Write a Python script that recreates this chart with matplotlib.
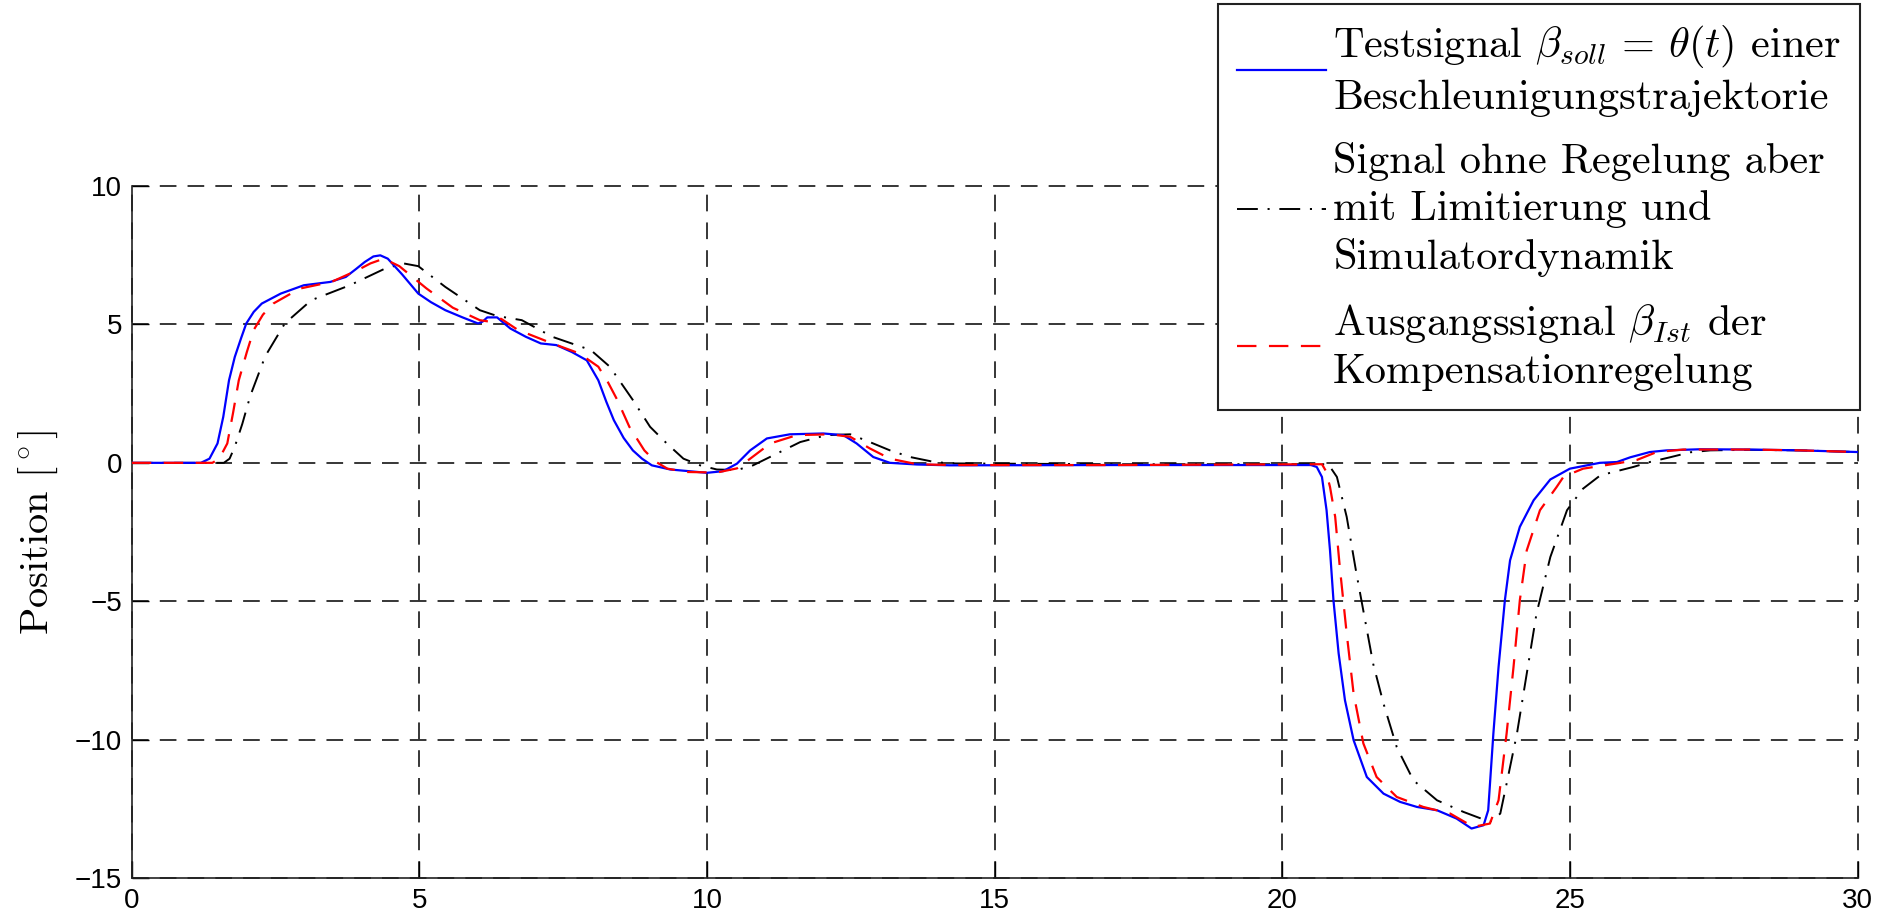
import matplotlib
matplotlib.use("Agg")
import matplotlib.pyplot as plt
from matplotlib.font_manager import FontProperties

plt.rcParams['mathtext.fontset'] = 'cm'
plt.rcParams['lines.scale_dashes'] = False
plt.rcParams['axes.unicode_minus'] = True

# ---------------- data ----------------
t_soll = [0, 1.2, 1.35, 1.49, 1.59, 1.69, 1.79, 1.9, 1.99, 2.12, 2.26, 2.59, 2.99, 3.45,
          3.72, 3.9, 4.05, 4.2, 4.32, 4.45, 4.7, 4.98, 5.2, 5.45, 5.75, 6.02, 6.1, 6.18,
          6.35, 6.58, 6.85, 7.11, 7.38, 7.65, 7.91, 8.11, 8.25, 8.38, 8.55, 8.71, 8.87,
          9.04, 9.36, 10.0, 10.28, 10.52, 10.75, 11.04, 11.44, 12.02, 12.37, 12.6, 12.89,
          13.18, 13.65, 14.22, 17.0, 20.5, 20.6, 20.69, 20.77, 20.83, 20.89, 20.98, 21.09,
          21.24, 21.47, 21.76, 22.05, 22.34, 22.69, 23.03, 23.29, 23.5, 23.58, 23.67,
          23.76, 23.87, 23.96, 24.13, 24.37, 24.66, 25.0, 25.52, 25.82, 26.05, 26.39,
          26.68, 27.26, 28.13, 29.0, 30.0]
y_soll = [0, 0, 0.15, 0.7, 1.66, 2.98, 3.82, 4.5, 5.03, 5.45, 5.75, 6.11, 6.41, 6.53,
          6.71, 7.0, 7.25, 7.45, 7.49, 7.37, 6.8, 6.11, 5.8, 5.51, 5.25, 5.03, 5.1, 5.25,
          5.25, 4.85, 4.55, 4.31, 4.25, 4.0, 3.70, 2.98, 2.2, 1.54, 0.9, 0.45, 0.15,
          -0.09, -0.24, -0.36, -0.30, -0.03, 0.45, 0.88, 1.03, 1.06, 1.0, 0.7, 0.21,
          0.0, -0.06, -0.09, -0.08, -0.08, -0.15, -0.51, -1.71, -3.16, -4.96, -6.88, -8.57,
          -10.01, -11.34, -11.94, -12.24, -12.42, -12.54, -12.84, -13.20, -13.08, -12.54, -9.77,
          -7.37, -4.96, -3.52, -2.31, -1.35, -0.6, -0.21, 0.0, 0.03, 0.2, 0.39,
          0.45, 0.49, 0.48, 0.45, 0.39]

t_ohne = [0, 1.6, 1.7, 1.79, 1.92, 2.06, 2.32, 2.66, 3.12, 3.79, 4.39, 4.72, 4.98, 5.45,
          6.05, 6.35, 6.78, 7.31, 7.98, 8.31, 8.71, 9.01, 9.30, 9.59, 9.88, 10.17, 10.52,
          10.80, 11.21, 11.62, 12.08, 12.49, 12.83, 13.18, 13.53, 13.93, 14.22, 17.0, 20.8,
          20.95, 21.12, 21.29, 21.44, 21.58, 21.76, 21.99, 22.28, 22.69, 23.15, 23.61,
          23.79, 23.90, 24.08, 24.25, 24.42, 24.66, 24.95, 25.12, 25.23, 25.53, 26.1,
          26.39, 26.74, 27.09, 27.44, 28.13, 29.0, 30.0]
y_ohne = [0, 0, 0.15, 0.58, 1.4, 2.42, 3.85, 5.03, 5.87, 6.41, 7.0, 7.2, 7.1, 6.35,
          5.51, 5.3, 5.15, 4.55, 4.07, 3.47, 2.27, 1.3, 0.70, 0.15, -0.09, -0.24, -0.26,
          -0.09, 0.33, 0.75, 1.0, 1.03, 0.75, 0.45, 0.21, 0.04, -0.02, -0.05, -0.05,
          -0.51, -1.95, -4.0, -5.68, -7.25, -8.69, -10.26, -11.46, -12.18, -12.6, -12.96,
          -12.66, -11.58, -9.77, -7.61, -5.44, -3.40, -1.71, -1.23, -0.93, -0.45, -0.15,
          0.03, 0.2, 0.38, 0.45, 0.47, 0.45, 0.39]

t_ist = [0, 1.4, 1.52, 1.66, 1.76, 1.86, 2.0, 2.12, 2.28, 2.46, 2.92, 3.47, 3.92, 4.15,
         4.38, 4.65, 5.12, 5.58, 6.05, 6.21, 6.42, 6.71, 7.31, 7.78, 8.11, 8.28, 8.44,
         8.65, 8.91, 9.1, 9.31, 9.65, 10.17, 10.52, 10.75, 11.1, 11.56, 12.14, 12.49,
         12.83, 13.18, 13.65, 14.22, 17.0, 20.69, 20.76, 20.83, 20.92, 21.0, 21.12, 21.24,
         21.41, 21.64, 21.99, 22.45, 22.92, 23.32, 23.61, 23.76, 23.90, 24.02, 24.13,
         24.25, 24.48, 24.77, 24.89, 25.23, 25.82, 26.16, 26.51, 26.97, 28.13, 29.0, 30.0]
y_ist = [0, 0, 0.15, 0.7, 1.8, 2.98, 4.0, 4.8, 5.35, 5.75, 6.29, 6.53, 6.95, 7.2,
         7.37, 7.1, 6.3, 5.6, 5.15, 5.1, 5.2, 4.8, 4.31, 3.95, 3.47, 2.9, 2.27,
         1.3, 0.45, 0.05, -0.21, -0.33, -0.35, -0.2, 0.15, 0.70, 1.0, 1.03, 0.94,
         0.52, 0.15, -0.05, -0.08, -0.08, -0.05, -0.3, -0.87, -1.95, -3.76, -6.16, -8.33,
         -10.13, -11.34, -12.06, -12.42, -12.66, -13.14, -13.02, -12.18, -9.77, -7.37, -4.96,
         -3.16, -1.71, -0.87, -0.5, -0.21, -0.02, 0.1, 0.39, 0.48, 0.48, 0.45, 0.39]

labels = [
    "Testsignal $\\beta_{soll}\\,=\\,\\theta(t)$ einer\nBeschleunigungstrajektorie",
    "Signal ohne Regelung aber\nmit Limitierung und\nSimulatordynamik",
    "Ausgangssignal $\\beta_{Ist}$ der\nKompensationregelung",
]
x_ticks = [0, 5, 10, 15, 20, 25, 30]
y_ticks = [-15, -10, -5, 0, 5, 10]
y_label = "Position $[^\\circ]$"

# ---------------- figure ----------------
W, H = 1879, 919
fig = plt.figure(figsize=(W / 100, H / 100), dpi=100)
ax = fig.add_axes([131.8 / W, 1 - 878.4 / H, (1857.5 - 131.8) / W, (878.4 - 185.8) / H])

ax.plot(t_soll, y_soll, color='#0000ff', lw=1.6, label=labels[0], zorder=3)
ax.plot(t_ohne, y_ohne, color='black', lw=1.4, linestyle=(0, (15, 7, 1.5, 7)),
        label=labels[1], zorder=2)
ax.plot(t_ist, y_ist, color='#ff0000', lw=1.6, linestyle=(0, (14, 9)),
        label=labels[2], zorder=4)

ax.set_xlim(0, 30)
ax.set_ylim(-15, 10)
ax.set_xticks(x_ticks)
ax.set_yticks(y_ticks)
ax.grid(True, color='black', linestyle=(0, (12, 8)), linewidth=1.1, zorder=1)
ax.set_axisbelow(True)
for gl in ax.get_xgridlines() + ax.get_ygridlines():
    gl.set_clip_on(False)
for s in ['top', 'right']:
    ax.spines[s].set_visible(False)
for s in ['left', 'bottom']:
    ax.spines[s].set_linewidth(1.2)
    ax.spines[s].set_color('#222222')

ax.tick_params(direction='in', length=12, width=1.0, colors='black',
               labelsize=20, pad=7)
for lab in ax.get_xticklabels() + ax.get_yticklabels():
    lab.set_fontfamily('Liberation Sans')

ax.set_ylabel(y_label, fontfamily='cmr10', fontsize=29)
ax.yaxis.set_label_coords((38 - 131.8) / (1857.5 - 131.8), 0.5)
ax.yaxis.label.set_va('center')

leg = ax.legend(loc='upper right', bbox_to_anchor=(1860 / W, 1 - 4 / H),
                bbox_transform=fig.transFigure, borderaxespad=0,
                prop=FontProperties(family='cmr10', size=30.5),
                frameon=True, fancybox=False, framealpha=1, edgecolor='#222222',
                handlelength=2.1, handletextpad=0.17, labelspacing=0.58,
                borderpad=0.45)
leg.get_frame().set_linewidth(1.5)
for txt in leg.get_texts():
    txt.set_linespacing(1.32)

fig.savefig('out.png', dpi=100)
